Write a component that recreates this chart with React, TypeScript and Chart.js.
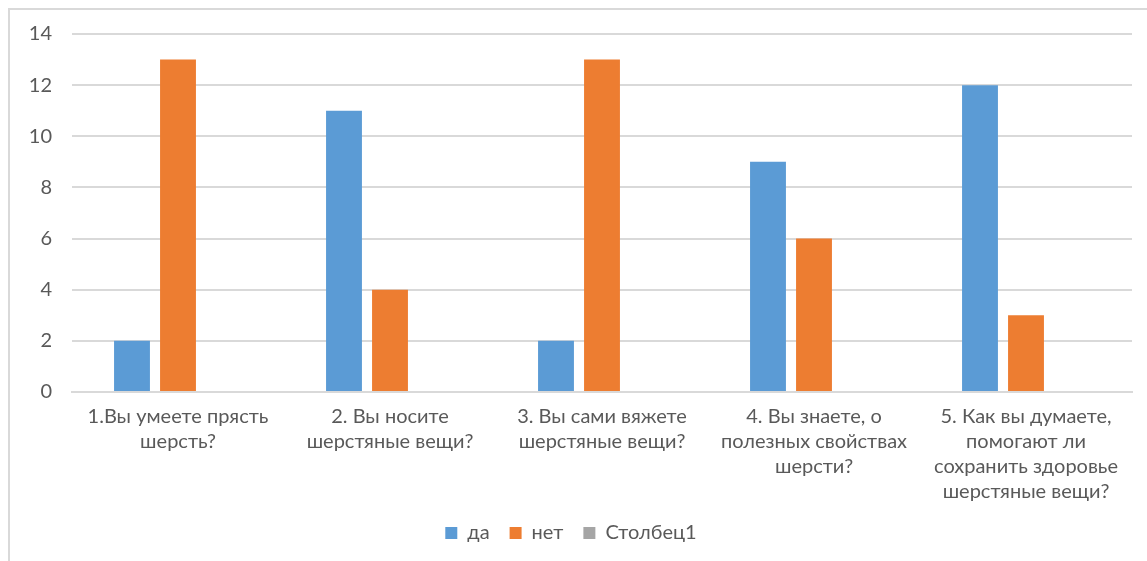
import React, { useEffect, useRef } from "react";
import { Chart, registerables } from "chart.js";

Chart.register(...registerables);

const categories: string[][] = [
  ["1.Вы умеете прясть", "шерсть?"],
  ["2. Вы носите", "шерстяные вещи?"],
  ["3. Вы сами вяжете", "шерстяные вещи?"],
  ["4. Вы знаете, о", "полезных свойствах", "шерсти?"],
  ["5. Как вы думаете,", "помогают ли", "сохранить здоровье", "шерстяные вещи?"],
];
const seriesNames = ["да", "нет", "Столбец1"];
const yesValues = [2, 11, 2, 9, 12];
const noValues = [13, 4, 13, 6, 3];
const col1Values: (number | null)[] = [null, null, null, null, null];
const yMin = 0;
const yMax = 14;
const yStep = 2;

const FONT = "Lato, 'Open Sans', sans-serif";
const TEXT = "#595959";
const GRID = "#d9d9d9";

export default function App() {
  const ref = useRef<HTMLCanvasElement | null>(null);
  useEffect(() => {
    document.documentElement.style.overflow = "hidden";
    const ctx = ref.current!;
    const chart = new Chart(ctx, {
      type: "bar",
      data: {
        labels: categories,
        datasets: [
          { label: seriesNames[0], data: yesValues, backgroundColor: "#5b9bd5" },
          { label: seriesNames[1], data: noValues, backgroundColor: "#ed7d31" },
          { label: seriesNames[2], data: col1Values, backgroundColor: "#a5a5a5" },
        ],
      },
      options: {
        animation: false,
        responsive: true,
        maintainAspectRatio: false,
        datasets: { bar: { categoryPercentage: 0.651, barPercentage: 0.78 } },
        layout: { padding: { left: 0, right: 15, top: 9, bottom: 8 } },
        plugins: {
          tooltip: { enabled: false },
          legend: {
            position: "bottom",
            labels: {
              boxWidth: 12,
              boxHeight: 12,
              padding: 20,
              color: TEXT,
              font: { family: FONT, size: 20 },
            },
          },
        },
        scales: {
          x: {
            grid: { display: false, drawTicks: false },
            border: { display: true, color: GRID, width: 2 },
            ticks: {
              color: TEXT,
              font: { family: FONT, size: 20, lineHeight: 1.25 },
              padding: 12,
              maxRotation: 0,
              autoSkip: false,
            },
            afterFit: (s: any) => {
              s.height = 111;
            },
          },
          y: {
            min: yMin,
            max: yMax,
            grid: { color: GRID, lineWidth: 2, drawTicks: false },
            border: { display: false },
            ticks: {
              stepSize: yStep,
              color: TEXT,
              font: { family: FONT, size: 20, lineHeight: 0.4 },
              padding: 20,
            },
            afterFit: (s: any) => {
              s.width = 62;
            },
          },
        },
      },
    });
    return () => chart.destroy();
  }, []);
  return (
    <div
      style={{
        position: "absolute",
        left: 8,
        top: 8,
        width: 1137,
        height: 551,
        borderTop: `2px solid ${GRID}`,
        borderLeft: `2px solid ${GRID}`,
        background: "#fff",
      }}
    >
      <div style={{ position: "relative", width: 1137, height: 551 }}>
        <canvas ref={ref} />
      </div>
    </div>
  );
}
